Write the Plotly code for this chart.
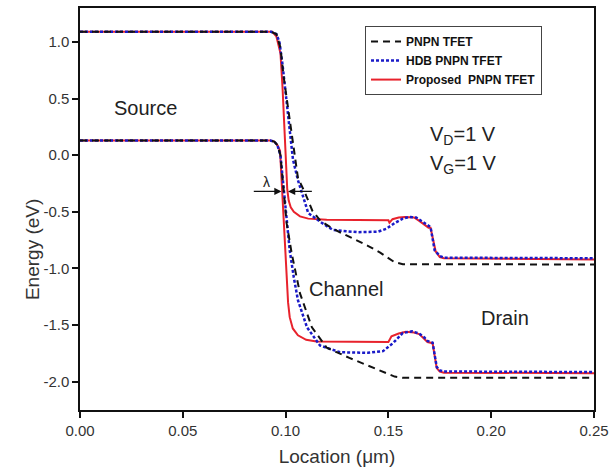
import plotly.graph_objects as go

# ---------------- data (Location in um, Energy in eV) ----------------
pnpn_cb_x = [0, 0.093, 0.0955, 0.0975, 0.099, 0.101, 0.1025, 0.106, 0.1094, 0.113, 0.117, 0.123, 0.131, 0.140, 0.146, 0.150, 0.153, 0.157, 0.25]
pnpn_cb_e = [1.09, 1.09, 1.07, 0.95, 0.70, 0.42, 0.25, -0.20, -0.33, -0.49, -0.58, -0.65, -0.72, -0.80, -0.86, -0.91, -0.945, -0.962, -0.965]

pnpn_vb_x = [0, 0.0925, 0.0945, 0.096, 0.0975, 0.099, 0.1005, 0.1030, 0.107, 0.1128, 0.120, 0.131, 0.1425, 0.149, 0.153, 0.157, 0.25]
pnpn_vb_e = [0.13, 0.13, 0.12, 0.09, 0.0, -0.3, -0.6, -0.87, -1.22, -1.52, -1.70, -1.79, -1.88, -1.93, -1.955, -1.965, -1.965]

hdb_cb_x = [0, 0.093, 0.0955, 0.097, 0.0985, 0.100, 0.102, 0.1036, 0.106, 0.108, 0.111, 0.117, 0.123, 0.135, 0.145, 0.149, 0.153, 0.157, 0.160, 0.1635, 0.166, 0.168, 0.1705, 0.1725, 0.175, 0.177, 0.25]
hdb_cb_e = [1.09, 1.09, 1.07, 1.0, 0.8, 0.55, 0.22, -0.04, -0.22, -0.34, -0.51, -0.59, -0.66, -0.68, -0.675, -0.65, -0.60, -0.56, -0.545, -0.55, -0.58, -0.61, -0.635, -0.84, -0.89, -0.905, -0.91]

hdb_vb_x = [0, 0.0925, 0.0945, 0.096, 0.0975, 0.099, 0.1005, 0.102, 0.104, 0.106, 0.1104, 0.1167, 0.1265, 0.140, 0.1474, 0.1522, 0.157, 0.1615, 0.165, 0.1675, 0.169, 0.1715, 0.1735, 0.175, 0.177, 0.25]
hdb_vb_e = [0.13, 0.13, 0.12, 0.09, 0.0, -0.3, -0.6, -0.84, -1.08, -1.28, -1.52, -1.68, -1.74, -1.745, -1.73, -1.66, -1.57, -1.555, -1.575, -1.61, -1.64, -1.655, -1.87, -1.90, -1.91, -1.915]

prop_cb_x = [0, 0.0935, 0.0955, 0.0975, 0.0985, 0.0995, 0.1003, 0.1008, 0.1015, 0.1025, 0.104, 0.107, 0.111, 0.120, 0.150, 0.1505, 0.152, 0.155, 0.158, 0.1625, 0.165, 0.168, 0.1695, 0.1705, 0.173, 0.175, 0.177, 0.25]
prop_cb_e = [1.09, 1.09, 1.05, 0.90, 0.60, 0.20, -0.10, -0.30, -0.40, -0.46, -0.50, -0.54, -0.56, -0.57, -0.575, -0.595, -0.565, -0.55, -0.545, -0.55, -0.58, -0.62, -0.64, -0.64, -0.85, -0.90, -0.91, -0.92]

prop_vb_x = [0, 0.0925, 0.0945, 0.0960, 0.0973, 0.0985, 0.1000, 0.1012, 0.1020, 0.1035, 0.106, 0.110, 0.115, 0.150, 0.1515, 0.155, 0.1585, 0.1625, 0.165, 0.1675, 0.169, 0.1715, 0.1735, 0.175, 0.177, 0.25]
prop_vb_e = [0.13, 0.13, 0.12, 0.09, 0.04, -0.40, -0.84, -1.30, -1.43, -1.53, -1.59, -1.63, -1.645, -1.65, -1.60, -1.575, -1.56, -1.565, -1.58, -1.62, -1.65, -1.66, -1.88, -1.91, -1.92, -1.925]

legend_names = ["PNPN TFET", "HDB PNPN TFET", "Proposed  PNPN TFET"]

x_tick_vals = [0.00, 0.05, 0.10, 0.15, 0.20, 0.25]
x_tick_text = ["0.00", "0.05", "0.10", "0.15", "0.20", "0.25"]
y_tick_vals = [1.0, 0.5, 0.0, -0.5, -1.0, -1.5, -2.0]
y_tick_text = ["1.0", "0.5", "0.0", "-0.5", "-1.0", "-1.5", "-2.0"]

# ---------------- styles ----------------
RED = "#e8222c"
BLUE = "#1a1ac8"
BLACK = "#111111"
FONT = "Liberation Sans, Arial, sans-serif"

fig = go.Figure()

for xs, es, show in [(prop_cb_x, prop_cb_e, True), (prop_vb_x, prop_vb_e, False)]:
    fig.add_trace(go.Scatter(x=xs, y=es, mode="lines", name=legend_names[2],
                             legendgroup="prop", showlegend=show, legendrank=3,
                             line=dict(color=RED, width=2)))
for xs, es, show in [(hdb_cb_x, hdb_cb_e, True), (hdb_vb_x, hdb_vb_e, False)]:
    fig.add_trace(go.Scatter(x=xs, y=es, mode="lines", name=legend_names[1],
                             legendgroup="hdb", showlegend=show, legendrank=2,
                             line=dict(color=BLUE, width=2.5, dash="3px,2px")))
for xs, es, show in [(pnpn_cb_x, pnpn_cb_e, True), (pnpn_vb_x, pnpn_vb_e, False)]:
    fig.add_trace(go.Scatter(x=xs, y=es, mode="lines", name=legend_names[0],
                             legendgroup="pnpn", showlegend=show, legendrank=1,
                             line=dict(color=BLACK, width=2, dash="7px,5px")))

annos = [
    dict(x=0.032, y=0.42, text="Source", size=20),
    dict(x=0.1295, y=-1.18, text="Channel", size=20),
    dict(x=0.2065, y=-1.44, text="Drain", size=20),
    dict(x=0.1865, y=0.17, text="V<sub>D</sub>=1 V", size=20),
    dict(x=0.1865, y=-0.08, text="V<sub>G</sub>=1 V", size=20),
    dict(x=0.0905, y=-0.24, text="λ", size=14),
]
for a in annos:
    fig.add_annotation(x=a["x"], y=a["y"], text=a["text"], showarrow=False,
                       xref="x", yref="y", font=dict(family=FONT, size=a["size"], color="#222"))

# lambda arrows
fig.add_annotation(x=0.0980, y=-0.32, ax=0.0838, ay=-0.32, xref="x", yref="y",
                   axref="x", ayref="y", text="", showarrow=True, arrowhead=2,
                   arrowsize=1.2, arrowwidth=1.2, arrowcolor="#111")
fig.add_annotation(x=0.1012, y=-0.32, ax=0.1135, ay=-0.32, xref="x", yref="y",
                   axref="x", ayref="y", text="", showarrow=True, arrowhead=2,
                   arrowsize=1.2, arrowwidth=1.2, arrowcolor="#111")

# y-axis title (placed below centre, as in the reference)
fig.add_annotation(x=-0.118, y=0.40, xref="paper", yref="paper", text="Energy (eV)",
                   textangle=-90, showarrow=False,
                   font=dict(family=FONT, size=19, color="#333"))

fig.update_layout(
    width=611, height=473,
    margin=dict(l=80, r=17, t=8, b=63),
    paper_bgcolor="white", plot_bgcolor="white",
    font=dict(family=FONT, color="#333"),
    legend=dict(x=0.5545, y=0.955, xanchor="left", yanchor="top",
                bordercolor="#444", borderwidth=1, bgcolor="white",
                font=dict(family=FONT, size=12, color="#111", weight="bold"),
                tracegroupgap=0, itemwidth=30),
    showlegend=True,
)
fig.update_xaxes(range=[0, 0.25], tickvals=x_tick_vals, ticktext=x_tick_text,
                 automargin=False,
                 showline=True, mirror=True, linecolor="#111", linewidth=1.5,
                 ticks="outside", ticklen=6, tickwidth=1.5, tickcolor="#111",
                 showgrid=False, zeroline=False,
                 tickfont=dict(family=FONT, size=15, color="#333"),
                 title=dict(text="Location (μm)", font=dict(family=FONT, size=19, color="#333"), standoff=12))
fig.update_yaxes(range=[-2.25, 1.3], tickvals=y_tick_vals, ticktext=y_tick_text,
                 automargin=False,
                 showline=True, mirror=True, linecolor="#111", linewidth=1.5,
                 ticks="outside", ticklen=6, tickwidth=1.5, tickcolor="#111",
                 showgrid=False, zeroline=False,
                 tickfont=dict(family=FONT, size=15, color="#333"))

fig.write_html("out.html")
